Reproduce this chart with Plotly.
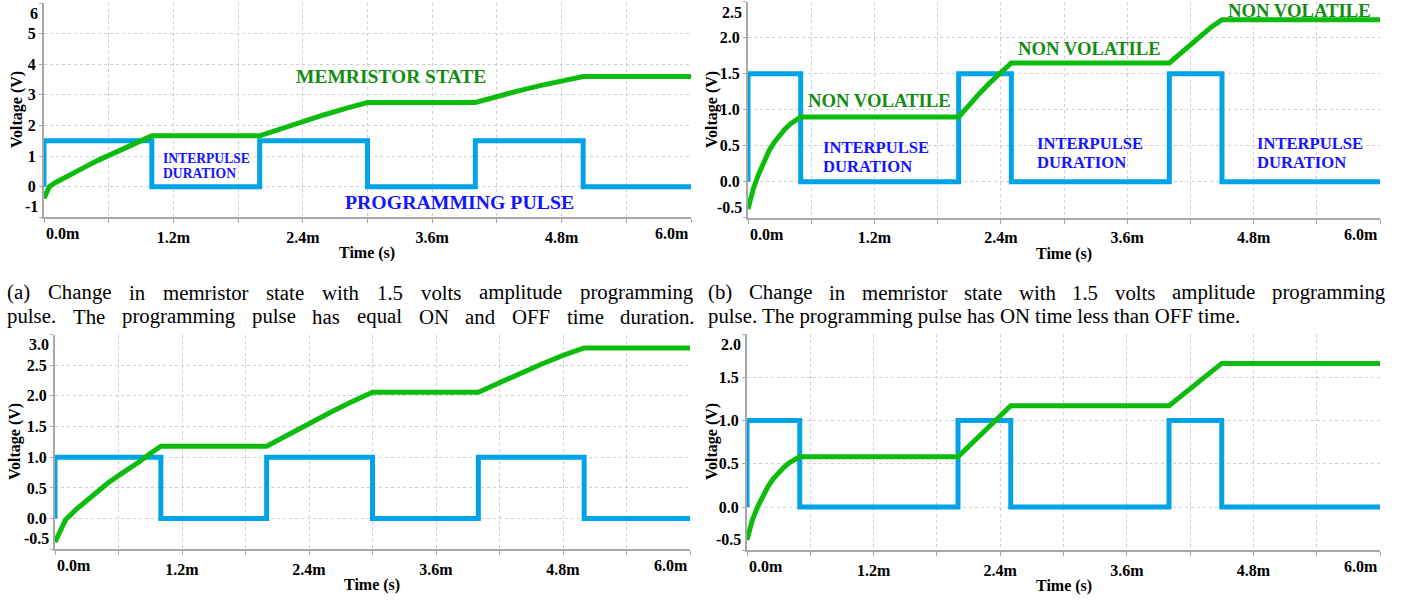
import plotly.graph_objects as go

# ---------------- data ----------------
# (a) 1.5 V pulse, equal ON/OFF (ms)
a_pulse_t = [0, 0, 1.0, 1.0, 2.0, 2.0, 3.0, 3.0, 4.0, 4.0, 5.0, 5.0, 6.0]
a_pulse_v = [0, 1.5, 1.5, 0, 0, 1.5, 1.5, 0, 0, 1.5, 1.5, 0, 0]
a_mem_t = [0, 0.05, 0.1, 0.2, 0.3, 0.4, 0.5, 0.6, 0.7, 0.8, 0.9, 1.0,
           2.0, 2.2, 2.4, 2.6, 2.8, 3.0, 4.0, 4.2, 4.4, 4.6, 4.8, 5.0, 6.0]
a_mem_v = [-0.38, 0.0, 0.12, 0.32, 0.5, 0.68, 0.86, 1.02, 1.18, 1.35, 1.5, 1.66,
           1.66, 1.9, 2.13, 2.35, 2.56, 2.75, 2.75, 2.95, 3.13, 3.3, 3.46, 3.6, 3.6]

# (b) 1.5 V pulse, ON < OFF
b_pulse_t = [0, 0, 0.5, 0.5, 2.0, 2.0, 2.5, 2.5, 4.0, 4.0, 4.5, 4.5, 6.0]
b_pulse_v = [0, 1.5, 1.5, 0, 0, 1.5, 1.5, 0, 0, 1.5, 1.5, 0, 0]
b_mem_t = [0, 0.05, 0.1, 0.15, 0.2, 0.25, 0.3, 0.35, 0.4, 0.45, 0.5,
           2.0, 2.1, 2.2, 2.3, 2.4, 2.5, 4.0, 4.1, 4.2, 4.3, 4.4, 4.5, 6.0]
b_mem_v = [-0.38, -0.1, 0.1, 0.28, 0.43, 0.55, 0.65, 0.73, 0.8, 0.86, 0.9,
           0.9, 1.07, 1.23, 1.38, 1.52, 1.65, 1.65, 1.78, 1.91, 2.03, 2.15, 2.25, 2.25]

# (c) 1.0 V pulse, equal ON/OFF
c_pulse_t = [0, 0, 1.0, 1.0, 2.0, 2.0, 3.0, 3.0, 4.0, 4.0, 5.0, 5.0, 6.0]
c_pulse_v = [0, 1.0, 1.0, 0, 0, 1.0, 1.0, 0, 0, 1.0, 1.0, 0, 0]
c_mem_t = [0, 0.1, 0.2, 0.3, 0.4, 0.5, 0.6, 0.7, 0.8, 0.9, 1.0,
           2.0, 2.2, 2.4, 2.6, 2.8, 3.0, 4.0, 4.2, 4.4, 4.6, 4.8, 5.0, 6.0]
c_mem_v = [-0.38, -0.02, 0.15, 0.3, 0.45, 0.58, 0.7, 0.81, 0.93, 1.06, 1.18,
           1.18, 1.37, 1.55, 1.73, 1.9, 2.06, 2.06, 2.22, 2.37, 2.52, 2.66, 2.78, 2.78]

# (d) 1.0 V pulse, ON < OFF
d_pulse_t = [0, 0, 0.5, 0.5, 2.0, 2.0, 2.5, 2.5, 4.0, 4.0, 4.5, 4.5, 6.0]
d_pulse_v = [0, 1.0, 1.0, 0, 0, 1.0, 1.0, 0, 0, 1.0, 1.0, 0, 0]
d_mem_t = [0, 0.05, 0.1, 0.15, 0.2, 0.25, 0.3, 0.35, 0.4, 0.45, 0.5,
           2.0, 2.1, 2.2, 2.3, 2.4, 2.5, 4.0, 4.1, 4.2, 4.3, 4.4, 4.5, 6.0]
d_mem_v = [-0.38, -0.15, 0.0, 0.13, 0.24, 0.33, 0.4, 0.46, 0.51, 0.55, 0.58,
           0.58, 0.7, 0.82, 0.94, 1.06, 1.17, 1.17, 1.27, 1.37, 1.47, 1.57, 1.66, 1.66]

x_tick_vals = [0, 0.6, 1.2, 1.8, 2.4, 3.0, 3.6, 4.2, 4.8, 5.4, 6.0]
x_tick_text = ["", "", "1.2m", "", "2.4m", "", "3.6m", "", "4.8m", "", ""]
x_end_labels = ["0.0m", "6.0m"]

a_y_ticks = [-1, 0, 1, 2, 3, 4, 5, 6]
a_y_text = ["-1", "0", "1", "2", "3", "4", "5", "6"]
b_y_ticks = [-0.5, 0.0, 0.5, 1.0, 1.5, 2.0, 2.5]
b_y_text = ["-0.5", "0.0", "0.5", "1.0", "1.5", "2.0", "2.5"]
c_y_ticks = [-0.5, 0.0, 0.5, 1.0, 1.5, 2.0, 2.5, 3.0]
c_y_text = ["-0.5", "0.0", "0.5", "1.0", "1.5", "2.0", "2.5", "3.0"]
d_y_ticks = [-0.5, 0.0, 0.5, 1.0, 1.5, 2.0]
d_y_text = ["-0.5", "0.0", "0.5", "1.0", "1.5", "2.0"]

caption_a = ["(a) Change in memristor state with 1.5 volts amplitude programming",
             "pulse. The programming pulse has equal ON and OFF time duration."]
caption_b = ["(b) Change in memristor state with 1.5 volts amplitude programming",
             "pulse. The programming pulse has ON time less than OFF time."]

# ---------------- style ----------------
W, H = 1404, 601
GREEN = "#0cbc0c"
BLUE = "#00a3e8"
GREEN_TXT = "#128c12"
BLUE_TXT = "#1414ff"
AXIS_C = "#a8a8a8"
GRID_C = "#cfcfcf"
SERIF = "Liberation Serif"

# Times-Roman advance widths (per 1000 em) used to justify caption lines
TIMES_W = {' ': 250, '(': 333, ')': 333, '.': 250, '1': 500, '5': 500,
           'a': 444, 'b': 500, 'c': 444, 'd': 500, 'e': 444, 'f': 333, 'g': 500,
           'h': 500, 'i': 278, 'j': 278, 'k': 500, 'l': 278, 'm': 778, 'n': 500,
           'o': 500, 'p': 500, 'q': 500, 'r': 333, 's': 389, 't': 278, 'u': 500,
           'v': 500, 'w': 722, 'x': 500, 'y': 500, 'z': 444,
           'C': 667, 'N': 722, 'O': 722, 'F': 556, 'T': 611}

def px_dom(x0, x1, ytop, ybot):
    return [x0 / W, x1 / W], [1 - ybot / H, 1 - ytop / H]

panels = [
    dict(pulse=(a_pulse_t, a_pulse_v), mem=(a_mem_t, a_mem_v), yt=a_y_ticks, ytt=a_y_text,
         box=(44, 691, 3, 217.3), vt=(17, 110), tt=(367, 253)),
    dict(pulse=(b_pulse_t, b_pulse_v), mem=(b_mem_t, b_mem_v), yt=b_y_ticks, ytt=b_y_text,
         box=(748, 1380, 1.7, 217.7), vt=(712, 110), tt=(1064, 254)),
    dict(pulse=(c_pulse_t, c_pulse_v), mem=(c_mem_t, c_mem_v), yt=c_y_ticks, ytt=c_y_text,
         box=(55, 690, 334.5, 549.3), vt=(15, 442), tt=(372, 585)),
    dict(pulse=(d_pulse_t, d_pulse_v), mem=(d_mem_t, d_mem_v), yt=d_y_ticks, ytt=d_y_text,
         box=(747, 1380, 334, 550.3), vt=(712, 442), tt=(1064, 586)),
]

fig = go.Figure()
annotations = []
tickfont = dict(family=SERIF, size=16, color="black", weight="bold")

for i, p in enumerate(panels, start=1):
    xa = "x" if i == 1 else f"x{i}"
    ya = "y" if i == 1 else f"y{i}"
    xd, yd = px_dom(*p["box"])
    ymin, ymax = p["yt"][0], p["yt"][-1]
    fig.add_trace(go.Scatter(x=p["pulse"][0], y=p["pulse"][1], mode="lines",
                             line=dict(color=BLUE, width=5), xaxis=xa, yaxis=ya,
                             showlegend=False, hoverinfo="skip"))
    fig.add_trace(go.Scatter(x=p["mem"][0], y=p["mem"][1], mode="lines",
                             line=dict(color=GREEN, width=5),
                             xaxis=xa, yaxis=ya, showlegend=False, hoverinfo="skip"))
    xkey = "xaxis" if i == 1 else f"xaxis{i}"
    ykey = "yaxis" if i == 1 else f"yaxis{i}"
    fig.update_layout(**{
        xkey: dict(domain=xd, anchor=ya, range=[0, 6.0], tickmode="array",
                   tickvals=x_tick_vals, ticktext=x_tick_text, showgrid=True,
                   gridcolor=GRID_C, griddash="dot", gridwidth=1, zeroline=False,
                   showline=True, linecolor=AXIS_C, linewidth=2, ticks="outside",
                   ticklen=4, tickcolor=AXIS_C, tickfont=tickfont, fixedrange=True),
        ykey: dict(domain=yd, anchor=xa, range=[ymin, ymax], tickmode="array",
                   tickvals=p["yt"], ticktext=[""] + p["ytt"][1:-1] + [""],
                   showgrid=True, gridcolor=GRID_C, griddash="dot", gridwidth=1,
                   zeroline=False, showline=True, linecolor=AXIS_C, linewidth=2,
                   ticks="outside", ticklen=3, tickcolor=AXIS_C, tickfont=tickfont,
                   fixedrange=True),
    })
    # end tick labels shifted inward (as in the original)
    annotations.append(dict(x=0, y=ymin, xref=xa, yref=ya, text=x_end_labels[0],
                            showarrow=False, xanchor="left", yanchor="top", yshift=-6,
                            font=tickfont))
    annotations.append(dict(x=6.0, y=ymin, xref=xa, yref=ya, text=x_end_labels[1],
                            showarrow=False, xanchor="right", yanchor="top", yshift=-6,
                            font=tickfont))
    annotations.append(dict(x=0, y=ymin, xref=xa, yref=ya, text=p["ytt"][0],
                            showarrow=False, xanchor="right", yanchor="bottom", xshift=-4,
                            font=tickfont))
    annotations.append(dict(x=0, y=ymax, xref=xa, yref=ya, text=p["ytt"][-1],
                            showarrow=False, xanchor="right", yanchor="top", xshift=-4,
                            font=tickfont))
    # axis titles
    annotations.append(dict(x=p["vt"][0] / W, y=1 - p["vt"][1] / H, xref="paper", yref="paper",
                            text="Voltage (V)", textangle=-90, showarrow=False,
                            xanchor="center", yanchor="middle",
                            font=dict(family=SERIF, size=16, color="black", weight="bold")))
    annotations.append(dict(x=p["tt"][0] / W, y=1 - p["tt"][1] / H, xref="paper", yref="paper",
                            text="Time (s)", showarrow=False, xanchor="center", yanchor="middle",
                            font=dict(family=SERIF, size=16, color="black", weight="bold")))

def lab(text, x, y, size, color, anchor="left"):
    annotations.append(dict(x=x / W, y=1 - y / H, xref="paper", yref="paper", text=text,
                            showarrow=False, xanchor=anchor, yanchor="middle",
                            font=dict(family=SERIF, size=size, color=color, weight="bold")))

# panel (a) labels
lab("MEMRISTOR STATE", 391, 76, 19.5, GREEN_TXT, "center")
lab("PROGRAMMING PULSE", 459.5, 202, 19.8, BLUE_TXT, "center")
lab("INTERPULSE", 160.7, 158.3, 13.6, BLUE_TXT)
lab("DURATION", 160.7, 173.3, 13.6, BLUE_TXT)
# panel (b) labels
lab("NON VOLATILE", 806, 101, 18.7, GREEN_TXT)
lab("NON VOLATILE", 1016, 48.5, 18.7, GREEN_TXT)
lab("NON VOLATILE", 1226, 11, 18.7, GREEN_TXT)
for xx, y1, y2 in [(820.7, 147.3, 166), (1035, 143.3, 162.3), (1255, 143.3, 162.7)]:
    lab("INTERPULSE", xx, y1, 16.6, BLUE_TXT)
    lab("DURATION", xx, y2, 16.6, BLUE_TXT)

# captions
CAP_SIZE = 20.8
capfont = dict(family=SERIF, size=CAP_SIZE, color="black")

def cap_line(text, x0, y, x1=None):
    if x1 is None:
        annotations.append(dict(x=x0 / W, y=1 - y / H, xref="paper", yref="paper",
                                text=text, showarrow=False, xanchor="left",
                                yanchor="middle", font=capfont))
        return
    words = text.split(" ")
    widths = [sum(TIMES_W.get(ch, 500) for ch in w) * CAP_SIZE / 1000 for w in words]
    gap = (x1 - x0 - sum(widths)) / (len(words) - 1)
    x = x0
    for w, wd in zip(words, widths):
        annotations.append(dict(x=x / W, y=1 - y / H, xref="paper", yref="paper",
                                text=w, showarrow=False, xanchor="left",
                                yanchor="middle", font=capfont))
        x += wd + gap

cap_line(caption_a[0], 5, 292, 691)
cap_line(caption_a[1], 5, 316, 693)
cap_line(caption_b[0], 706, 292, 1383)
cap_line(caption_b[1], 706, 316)

fig.update_layout(width=W, height=H, margin=dict(l=0, r=0, t=0, b=0),
                  paper_bgcolor="white", plot_bgcolor="white",
                  annotations=annotations, showlegend=False)

fig.write_html("out.html", config={"displayModeBar": False},
               post_script="document.body.style.margin='0';document.body.style.overflow='hidden';")
